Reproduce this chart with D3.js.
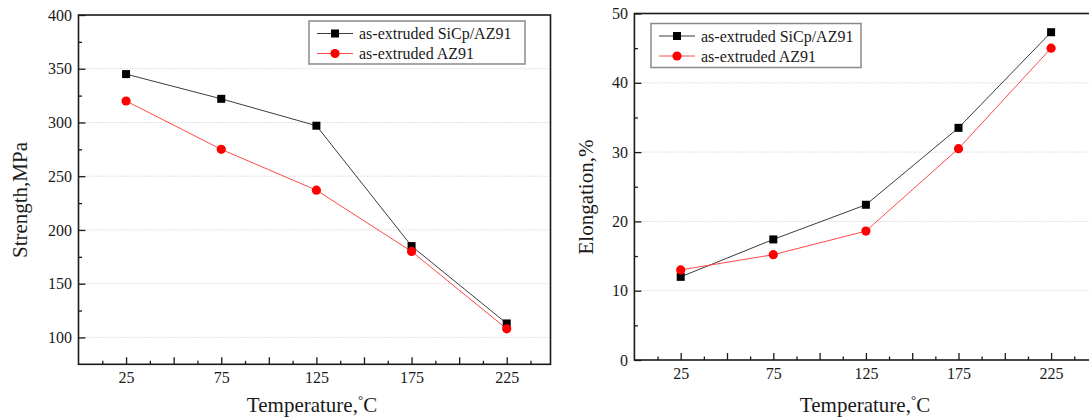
<!DOCTYPE html>
<html>
<head>
<meta charset="utf-8">
<title>strength_elongation</title>
<script src="https://d3js.org/d3.v7.min.js"></script>
<style>
  body { margin: 0; background: #fff; }
  text { font-family: "Liberation Serif", "Times New Roman", serif; fill: #1a1a1a; }
</style>
</head>
<body>
<svg id="chart" width="1089" height="418"></svg>
<script>
// data
const temps = [25, 75, 125, 175, 225];
const xTickLabels = [25, 75, 125, 175, 225];
const seriesNames = ["as-extruded SiCp/AZ91", "as-extruded AZ91"];

const strengthSiC = [345, 322, 297, 185, 113];
const strengthAZ91 = [320, 275, 237, 180, 108];

const elongSiC = [12.0, 17.4, 22.4, 33.5, 47.3];
const elongAZ91 = [13.0, 15.2, 18.6, 30.5, 45.0];

const strengthTicks = [100, 150, 200, 250, 300, 350, 400];
const elongTicks = [0, 10, 20, 30, 40, 50];

let svg = d3.select('#chart')
svg.append("rect").attr("width", 1089).attr("height", 418).attr("fill", "white")

function drawPanel(p) {
  let g = svg.append("g")
  let x = d3.scaleLinear().domain(p.xDomain).range(p.xRange)
  let y = d3.scaleLinear().domain(p.yDomain).range(p.yRange)
  let [x0, x1] = p.xRange
  let [yb, yt] = p.yRange

  // dotted grid at major y ticks
  g.selectAll(".grid").data(p.yTicks.filter(v => v > p.yDomain[0] && v < p.yDomain[1]))
    .enter().append("line")
    .attr("x1", x0).attr("x2", x1)
    .attr("y1", d => y(d)).attr("y2", d => y(d))
    .attr("stroke", "#c4c4c4").attr("stroke-width", 1)
    .attr("stroke-dasharray", "1,2")

  // x axis: major ticks every 25, minor between, labels on some
  let majorX = d3.range(25, p.xDomain[1], 25)
  let minorX = d3.range(12.5, p.xDomain[1], 25)
  let xMinor = g.append("g").attr("transform", `translate(0,${yb})`)
    .call(d3.axisBottom(x).tickValues(minorX).tickSize(-3.5).tickFormat(""))
  let xMajor = g.append("g").attr("transform", `translate(0,${yb})`)
    .call(d3.axisBottom(x).tickValues(majorX).tickSize(-7).tickPadding(7.5)
      .tickFormat(d => xTickLabels.includes(d) ? d : ""))
  // y axis
  let yStep = p.yTicks[1] - p.yTicks[0]
  let minorY = d3.range(p.yTicks[0] + yStep / 2, p.yDomain[1], yStep)
  let yMinor = g.append("g").attr("transform", `translate(${x0},0)`)
    .call(d3.axisLeft(y).tickValues(minorY).tickSize(-3.5).tickFormat(""))
  let yMajor = g.append("g").attr("transform", `translate(${x0},0)`)
    .call(d3.axisLeft(y).tickValues(p.yTicks).tickSize(-7).tickPadding(6.5))

  for (let a of [xMinor, xMajor, yMinor, yMajor]) {
    a.select(".domain").remove()
    a.selectAll("line").attr("stroke", "#1a1a1a").attr("stroke-width", 1.3)
    a.selectAll("text").style("font-size", "16px").attr("fill", "#1a1a1a")
      .style("font-family", '"Liberation Serif", "Times New Roman", serif')
  }

  // frame
  g.append("rect")
    .attr("x", x0).attr("y", yt)
    .attr("width", x1 - x0).attr("height", yb - yt)
    .attr("fill", "none").attr("stroke", "#1a1a1a").attr("stroke-width", 1.6)

  // lines + markers
  let line = d3.line().x(d => x(d[0])).y(d => y(d[1]))
  let sic = temps.map((t, i) => [t, p.sic[i]])
  let az = temps.map((t, i) => [t, p.az[i]])

  g.append("path").attr("d", line(sic)).attr("fill", "none")
    .attr("stroke", "#3c3c3c").attr("stroke-width", 1)
  g.append("path").attr("d", line(az)).attr("fill", "none")
    .attr("stroke", "#ff4a4a").attr("stroke-width", 1)

  g.selectAll(".sq").data(sic).enter().append("rect")
    .attr("x", d => x(d[0]) - 4).attr("y", d => y(d[1]) - 4)
    .attr("width", 8).attr("height", 8).attr("fill", "black")
  g.selectAll(".ci").data(az).enter().append("circle")
    .attr("cx", d => x(d[0])).attr("cy", d => y(d[1]))
    .attr("r", 4.6).attr("fill", "#ff0000")

  // axis titles
  let xt = g.append("text")
    .attr("x", p.xTitle[0]).attr("y", p.xTitle[1])
    .attr("text-anchor", "middle").style("font-size", "21px")
  xt.append("tspan").text("Temperature,")
  xt.append("tspan").text("°").style("font-size", "13px").attr("dy", -8)
  xt.append("tspan").text("C").attr("dy", 8)

  g.append("text")
    .attr("transform", `translate(${p.yTitle[0]},${p.yTitle[1]}) rotate(-90)`)
    .attr("text-anchor", "middle").style("font-size", "21px")
    .text(p.yLabel)

  // legend
  let L = p.legend
  let lg = g.append("g").attr("transform", `translate(${L.x},${L.y})`)
  lg.append("rect").attr("width", L.w).attr("height", L.h)
    .attr("fill", "white").attr("stroke", "#8a8a8a").attr("stroke-width", 1.5)
  seriesNames.forEach((name, i) => {
    let yy = 12.5 + i * 20
    lg.append("line").attr("x1", 8).attr("x2", 44).attr("y1", yy).attr("y2", yy)
      .attr("stroke", i == 0 ? "#3c3c3c" : "#ff4a4a").attr("stroke-width", 1)
    if (i == 0) {
      lg.append("rect").attr("x", 26 - 4).attr("y", yy - 4)
        .attr("width", 8).attr("height", 8).attr("fill", "black")
    } else {
      lg.append("circle").attr("cx", 26).attr("cy", yy).attr("r", 4.6).attr("fill", "#ff0000")
    }
    lg.append("text").attr("x", 50).attr("y", yy + 5.5)
      .style("font-size", "16px").text(name)
  })
}

drawPanel({
  xDomain: [0, 248], xRange: [78.5, 550.5],
  yDomain: [75, 400], yRange: [364.3, 15],
  yTicks: strengthTicks,
  sic: strengthSiC, az: strengthAZ91,
  xTitle: [312, 412], yTitle: [27, 200], yLabel: "Strength,MPa",
  legend: { x: 309, y: 21, w: 216, h: 43 }
})

drawPanel({
  xDomain: [0, 250], xRange: [634.4, 1097.4],
  yDomain: [0, 50], yRange: [360, 13.5],
  yTicks: elongTicks,
  sic: elongSiC, az: elongAZ91,
  xTitle: [865, 412], yTitle: [593, 197], yLabel: "Elongation,%",
  legend: { x: 651, y: 23.5, w: 210, h: 44 }
})
</script>
</body>
</html>
